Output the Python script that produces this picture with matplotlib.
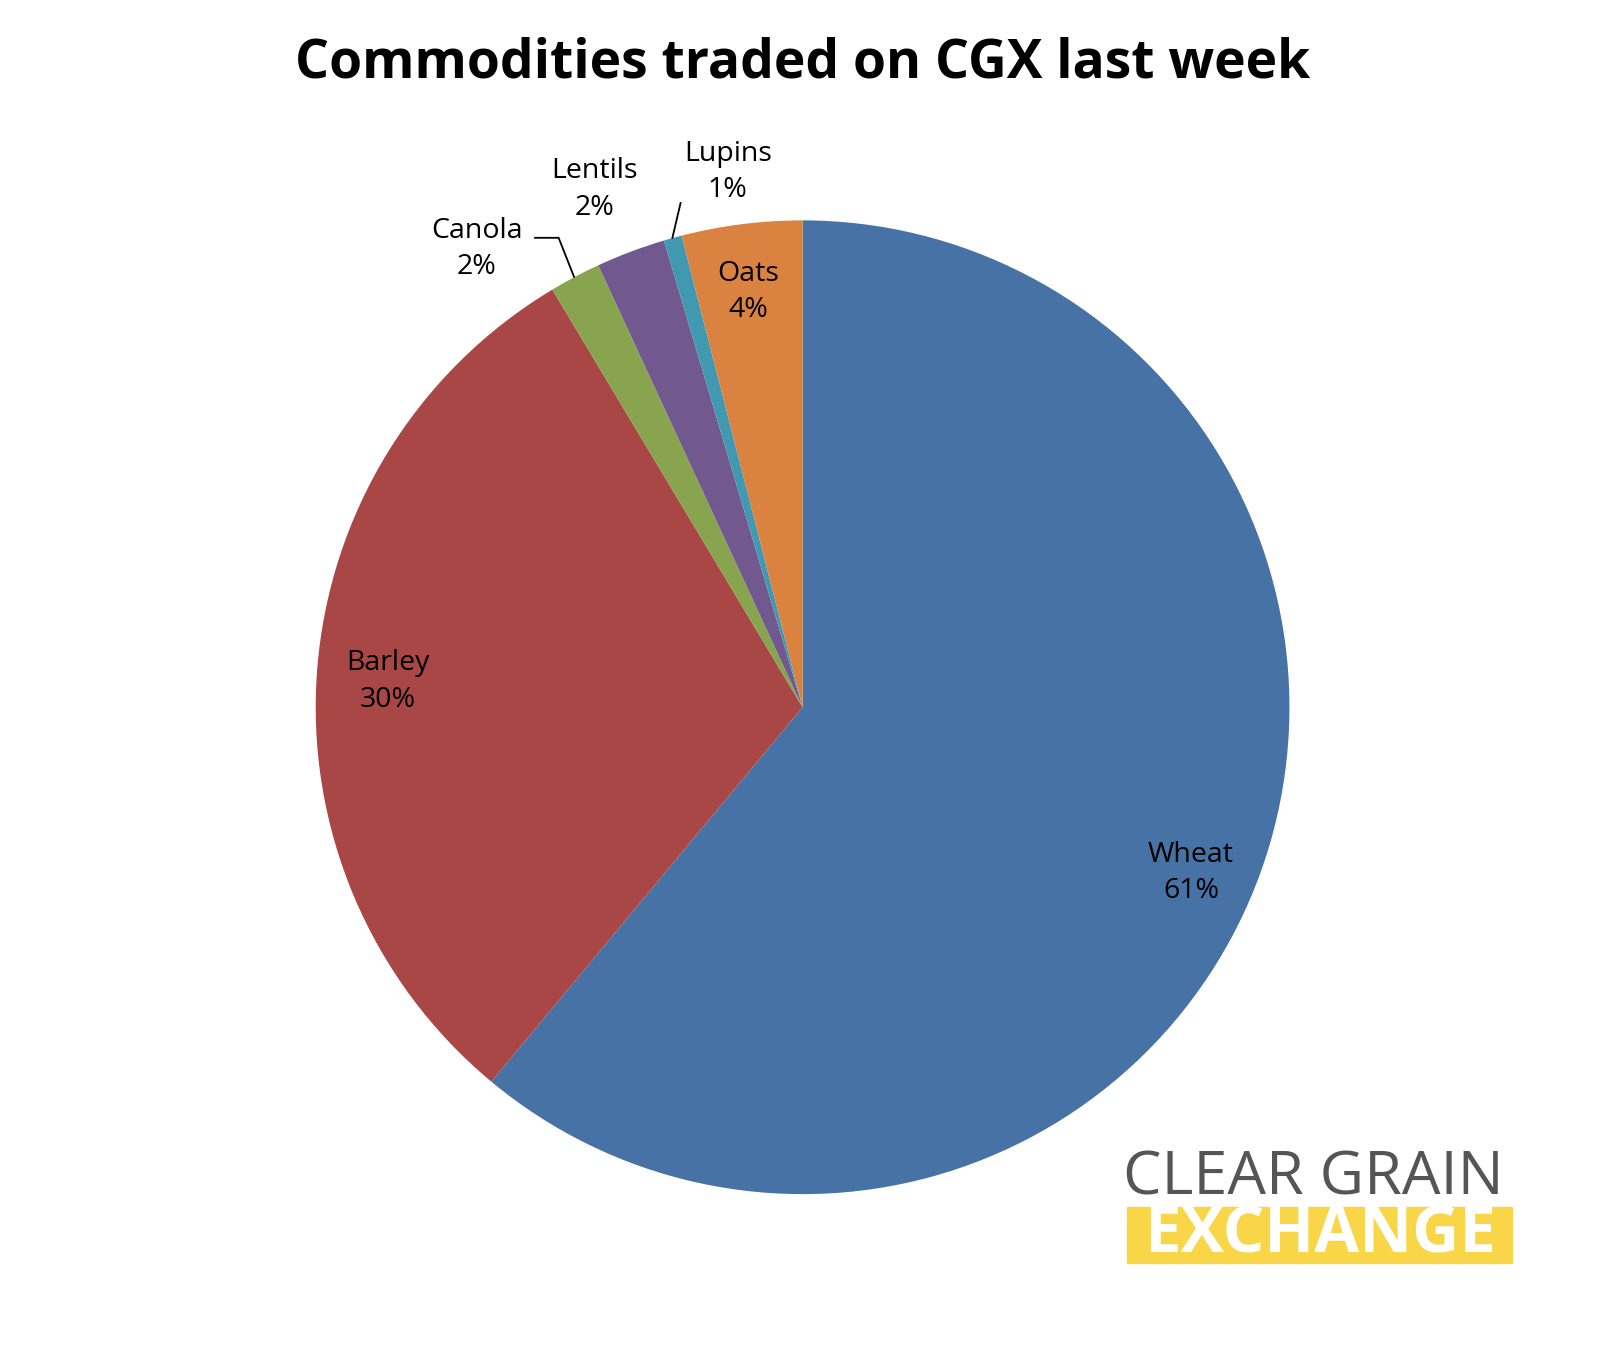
import matplotlib.pyplot as plt
from matplotlib.patches import Rectangle

labels = ["Wheat", "Barley", "Canola", "Lentils", "Lupins", "Oats"]
values = [61.1, 30.4, 1.7, 2.3, 0.6, 4.0]
pct_text = ["61%", "30%", "2%", "2%", "1%", "4%"]
colors = ["#4672A6", "#A84745", "#89A44E", "#71598F", "#4099B0", "#DA823F"]

W, H = 1608, 1350
S = 1.025
CX, CY, R = 783 * S, 690 * S, 475 * S

plt.rcParams['font.family'] = ['Open Sans', 'DejaVu Sans']
fig = plt.figure(figsize=(W / 100, H / 100), dpi=100)
ax = fig.add_axes([(CX - R) / W, (H - CY - R) / H, 2 * R / W, 2 * R / H])
ax.pie(values, colors=colors, startangle=90, counterclock=False,
       wedgeprops=dict(linewidth=0))
ax.set_xlim(-1, 1)
ax.set_ylim(-1, 1)
ax.set_aspect("equal")
ax.axis("off")

def to_data(px, py):
    return (px * S - CX) / R, (CY - py * S) / R

label_pos = [(1162, 852), (378, 665), (465, 243), (580, 185), (710, 168), (730, 285)]
for name, pct, (px, py) in zip(labels, pct_text, label_pos):
    x, y = to_data(px, py)
    ax.text(x, y, f"{name}\n{pct}", ha="center", va="center", fontsize=20.5,
            linespacing=1.4, clip_on=False)

# leader lines
for pts in ([(522, 232), (545, 232), (560, 270)], [(664, 198), (656, 232)]):
    xs, ys = zip(*[to_data(px, py) for px, py in pts])
    ax.plot(xs, ys, color="black", lw=1.3, clip_on=False)

fig.text(CX / W, 1 - 62 * S / H, "Commodities traded on CGX last week",
         ha="center", va="center", fontsize=38.5, fontweight="bold")

# logo
fig.text(1096 * S / W, 1 - 1150 * S / H, "CLEAR GRAIN", ha="left", va="center",
         fontsize=44, color="#555555")
fig.patches.append(Rectangle((1100 * S / W, 1 - 1232 * S / H), 375 * S / W, 54 * S / H,
                             transform=fig.transFigure, color="#F9D648"))
fig.text(1288 * S / W, 1 - 1206 * S / H, "EXCHANGE", ha="center", va="center",
         fontsize=47, fontweight="bold", color="white")

fig.savefig("out.png", dpi=100)
